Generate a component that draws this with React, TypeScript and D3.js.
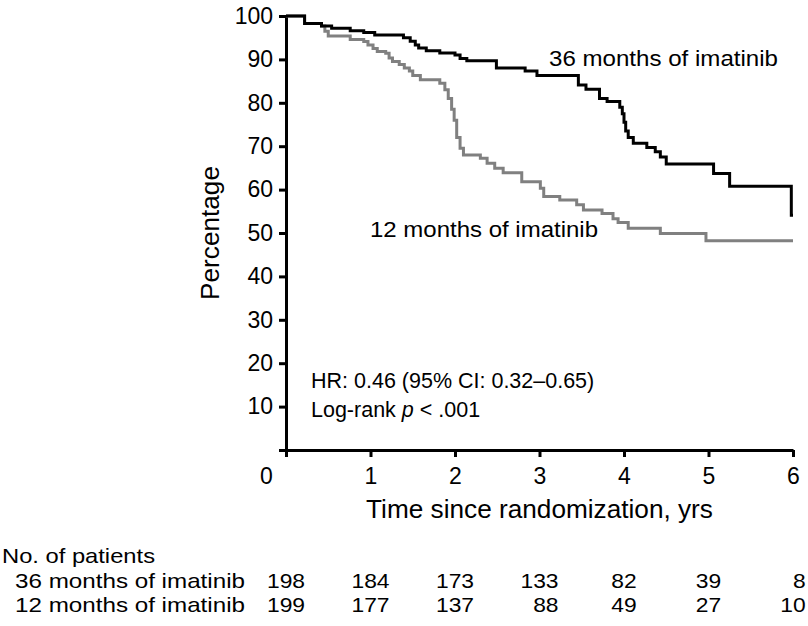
import React, { useEffect, useRef } from "react";
import * as d3 from "d3";

// Kaplan-Meier steps (time in years, percentage)
const time36 = [0, 0.22, 0.42, 0.54, 0.76, 0.92, 1.05, 1.39, 1.47, 1.53, 1.57, 1.66, 1.82, 2.0, 2.06, 2.14, 2.49, 2.83, 2.97, 3.46, 3.55, 3.71, 3.8, 3.95, 3.98, 4.0, 4.02, 4.05, 4.11, 4.27, 4.37, 4.43, 4.5, 5.06, 5.25, 5.98, 6.0];
const surv36 = [100, 98.3, 97.7, 97.2, 96.6, 96.2, 95.6, 95.0, 94.2, 93.3, 92.6, 92.0, 91.5, 91.0, 90.2, 89.7, 88.0, 87.3, 86.3, 84.1, 83.1, 81.0, 80.3, 79.0, 77.5, 75.5, 73.5, 72.0, 70.7, 69.7, 68.7, 67.5, 65.9, 63.7, 60.8, 54.1, 54.1];

const time12 = [0, 0.22, 0.42, 0.46, 0.5, 0.76, 0.92, 0.97, 1.03, 1.08, 1.18, 1.22, 1.26, 1.34, 1.4, 1.46, 1.5, 1.59, 1.82, 1.88, 1.92, 1.96, 1.99, 2.02, 2.06, 2.1, 2.3, 2.38, 2.47, 2.57, 2.79, 3.01, 3.05, 3.24, 3.44, 3.52, 3.74, 3.87, 3.93, 4.05, 4.43, 4.97, 6.0];
const surv12 = [100, 98.3, 97.7, 96.5, 95.4, 94.6, 94.1, 93.3, 92.5, 91.8, 91.4, 90.3, 89.5, 88.8, 88.0, 87.3, 86.3, 85.3, 84.5, 83.0, 81.0, 78.5, 76.0, 72.0, 69.5, 68.0, 67.2, 66.1, 64.9, 63.9, 61.8, 60.3, 58.4, 57.6, 56.5, 55.3, 54.5, 53.3, 52.4, 51.1, 49.9, 48.2, 48.2];

const yTicks = [0, 10, 20, 30, 40, 50, 60, 70, 80, 90, 100];
const xTicks = [0, 1, 2, 3, 4, 5, 6];

const riskTimes = [0, 1, 2, 3, 4, 5, 6];
const risk36 = [198, 184, 173, 133, 82, 39, 8];
const risk12 = [199, 177, 137, 88, 49, 27, 10];

const label36 = "36 months of imatinib";
const label12 = "12 months of imatinib";

const FONT = 'Arial, "Liberation Sans", sans-serif';

export default function App() {
  const width = 808;
  const height = 626;
  const svgRef = useRef<SVGSVGElement>(null);

  useEffect(() => {
    const svg = d3.select(svgRef.current);
    svg.selectAll("*").remove();

    const x = d3.scaleLinear().domain([0, 6]).range([286, 793]);
    const y = d3.scaleLinear().domain([0, 100]).range([450, 16]);

    const g = svg.append("g").attr("font-family", FONT).attr("fill", "#000");

    // axes
    const yAxis = g
      .append("g")
      .attr("transform", `translate(${x(0)},0)`)
      .call(
        d3
          .axisLeft(y)
          .tickValues(yTicks)
          .tickSize(7)
          .tickSizeOuter(0)
          .tickPadding(6)
          .tickFormat((d) => (d === 0 ? "" : String(d)))
      );
    const xAxis = g
      .append("g")
      .attr("transform", `translate(0,${y(0)})`)
      .call(
        d3
          .axisBottom(x)
          .tickValues(xTicks)
          .tickSize(7)
          .tickSizeOuter(0)
          .tickPadding(11)
          .tickFormat((d) => String(d))
      );

    [yAxis, xAxis].forEach((ax) => {
      ax.select(".domain").attr("stroke", "#000").attr("stroke-width", 3);
      ax.selectAll(".tick line").attr("stroke", "#000").attr("stroke-width", 3);
      ax.selectAll(".tick text")
        .attr("font-size", 23)
        .attr("font-family", FONT)
        .attr("fill", "#000");
    });
    // origin label sits left of the axis
    xAxis
      .selectAll<SVGTextElement, number>(".tick text")
      .filter((d) => d === 0)
      .attr("x", -20);

    // curves
    const line = d3
      .line<[number, number]>()
      .x((d) => x(d[0]))
      .y((d) => y(d[1]))
      .curve(d3.curveStepAfter);

    const pts12 = time12.map((t, i) => [t, surv12[i]] as [number, number]);
    const pts36 = time36.map((t, i) => [t, surv36[i]] as [number, number]);

    g.append("path")
      .attr("d", line(pts12))
      .attr("fill", "none")
      .attr("stroke", "#808080")
      .attr("stroke-width", 3);
    g.append("path")
      .attr("d", line(pts36))
      .attr("fill", "none")
      .attr("stroke", "#000")
      .attr("stroke-width", 3);

    // text slightly wider than the font's natural width, like the original
    const wideText = (
      sel: d3.Selection<SVGGElement, unknown, null, undefined>,
      tx: number,
      ty: number,
      fs: number,
      len: number,
      s: string,
      anchor = "start"
    ) =>
      sel
        .append("text")
        .attr("x", tx)
        .attr("y", ty)
        .attr("font-size", fs)
        .attr("text-anchor", anchor)
        .attr("textLength", len)
        .attr("lengthAdjust", "spacingAndGlyphs")
        .text(s);

    // curve labels
    wideText(g, 549, 66, 22, 229, label36);
    wideText(g, 370, 237, 22, 228, label12);

    // stats
    g.append("text")
      .attr("x", 311)
      .attr("y", 388)
      .attr("font-size", 21.5)
      .text("HR: 0.46 (95% CI: 0.32\u20130.65)");
    const lr = g.append("text").attr("x", 311).attr("y", 417).attr("font-size", 21.5);
    lr.append("tspan").text("Log-rank ");
    lr.append("tspan").attr("font-style", "italic").text("p");
    lr.append("tspan").text(" < .001");

    // axis titles
    g.append("text")
      .attr("transform", `translate(219,${(y(0) + y(100)) / 2}) rotate(-90)`)
      .attr("text-anchor", "middle")
      .attr("font-size", 26.2)
      .text("Percentage");
    g.append("text")
      .attr("x", (x(0) + x(6)) / 2)
      .attr("y", 518)
      .attr("text-anchor", "middle")
      .attr("font-size", 26.2)
      .text("Time since randomization, yrs");

    // number at risk table
    const tfs = 21;
    const digitW = 12.7;
    wideText(g, 2, 563, tfs, 153, "No. of patients");
    const rows = [
      { label: label36, values: risk36, yy: 588 },
      { label: label12, values: risk12, yy: 612 },
    ];
    rows.forEach((r) => {
      wideText(g, 15, r.yy, tfs, 230, r.label);
      r.values.forEach((v, i) => {
        const maxDigits = Math.max(String(risk36[i]).length, String(risk12[i]).length);
        const s = String(v);
        wideText(
          g,
          x(riskTimes[i]) + (maxDigits * digitW) / 2,
          r.yy,
          tfs,
          s.length * digitW,
          s,
          "end"
        );
      });
    });
  }, []);

  return (
    <svg
      ref={svgRef}
      width={width}
      height={height}
      style={{ position: "absolute", left: 0, top: 0, display: "block", background: "#fff" }}
    ></svg>
  );
}
